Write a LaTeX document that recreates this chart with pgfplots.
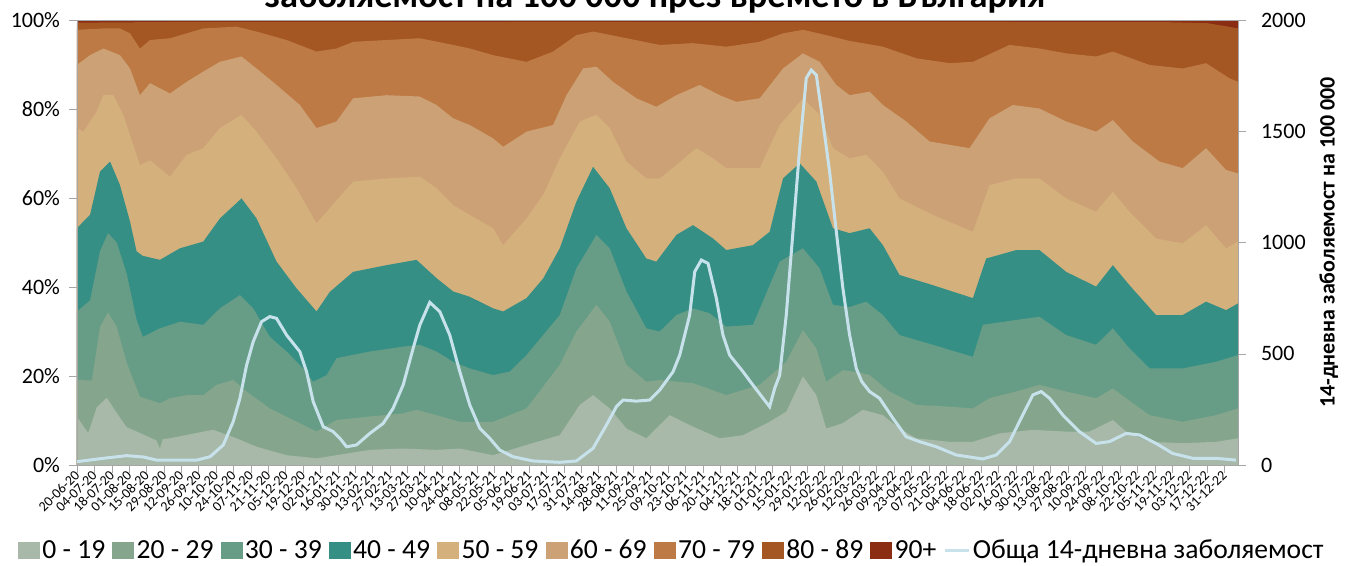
\documentclass[border=0pt]{standalone}
\usepackage{fontspec}
\setmainfont{Carlito}
\usepackage{pgfplots}
\pgfplotsset{compat=1.18}
\definecolor{cA}{HTML}{A8B9AA}
\definecolor{cB}{HTML}{85A68C}
\definecolor{cC}{HTML}{679D86}
\definecolor{cD}{HTML}{358F85}
\definecolor{cE}{HTML}{D4B07C}
\definecolor{cF}{HTML}{CCA176}
\definecolor{cG}{HTML}{BD7A44}
\definecolor{cH}{HTML}{A45623}
\definecolor{cI}{HTML}{8B2D12}
\definecolor{cL}{HTML}{C8E2EC}
\definecolor{axg}{HTML}{A6A6A6}
\pgfplotsset{
  sqleg/.style={legend image code/.code={\fill[##1] (0pt,-4.2pt) rectangle (11pt,4.2pt);}},
  lnleg/.style={legend image code/.code={\draw[##1] (0pt,0pt) -- (12pt,0pt);}},
}
\begin{document}
\begin{tikzpicture}
\begin{axis}[
  at={(38.5pt,50.5pt)}, anchor=south west,
  scale only axis, width=580.5pt, height=222.5pt,
  xmin=0, xmax=935, ymin=0, ymax=100,
  axis on top,
  axis line style={draw=axg},
  tick style={draw=axg},
  tick align=outside, major tick length=4pt,
  ytick pos=left, xtick pos=bottom,
  ytick={0,20,...,100},
  /pgf/number format/assume math mode=true,
  yticklabel={\pgfmathprintnumber{\tick}\%},
  yticklabel style={font=\fontsize{11}{13}\selectfont, xshift=-1pt},
  xtick={0,14,...,924},
  xticklabels={20-06-20,04-07-20,18-07-20,01-08-20,15-08-20,29-08-20,12-09-20,26-09-20,10-10-20,24-10-20,07-11-20,21-11-20,05-12-20,19-12-20,
  02-01-21,16-01-21,30-01-21,13-02-21,27-02-21,13-03-21,27-03-21,10-04-21,24-04-21,08-05-21,22-05-21,05-06-21,19-06-21,03-07-21,17-07-21,31-07-21,14-08-21,28-08-21,11-09-21,25-09-21,09-10-21,23-10-21,06-11-21,20-11-21,04-12-21,18-12-21,
  01-01-22,15-01-22,29-01-22,12-02-22,26-02-22,12-03-22,26-03-22,09-04-22,23-04-22,07-05-22,21-05-22,04-06-22,18-06-22,02-07-22,16-07-22,30-07-22,13-08-22,27-08-22,10-09-22,24-09-22,08-10-22,22-10-22,05-11-22,19-11-22,03-12-22,17-12-22,31-12-22},
  xticklabel style={rotate=45, anchor=east, font=\fontsize{7}{8}\selectfont, inner sep=0.8pt, xshift=1pt},
  legend columns=-1,
  legend style={at={(0.5125,-0.193)}, anchor=center, draw=none, fill=none,
    font=\fontsize{13.8}{16}\selectfont, nodes={inner sep=1.1pt},
    /tikz/every even column/.append style={column sep=2.5pt}},
]
% 90+ (to 100%)
\addplot[fill=cI, draw=none, forget plot] coordinates {(0,100) (935,100)} \closedcycle;
% top of 80-89
\addplot[fill=cH, draw=none, forget plot] coordinates {(0,99.4) (100,99.6) (200,99.6) (300,99.5) (400,99.6) (500,99.5) (600,99.6) (700,99.6) (800,99.5) (880,99.5) (910,99.3) (925,98.6) (935,98.1)} \closedcycle;
% top of 70-79
\addplot[fill=cG, draw=none, forget plot] coordinates {(0,97.8) (21.2,98.1) (34.6,98.1) (42.7,97.0) (50.7,93.6) (58.8,95.5) (74.9,95.9) (88.3,97.0) (101.7,98.1) (128.5,98.5) (144.6,97.4) (168.8,95.5) (192.9,92.9) (209.0,93.6) (222.4,95.1) (249.2,95.5) (276.1,95.9) (302.9,94.4) (316.3,93.6) (335.1,92.1) (362.0,90.6) (383.4,92.9) (402.2,96.6) (415.6,97.4) (442.5,95.9) (469.3,94.4) (496.1,94.8) (522.9,94.0) (549.8,95.1) (568.6,97.0) (584.6,97.8) (603.4,96.6) (622.2,95.3) (649.0,94.0) (675.9,91.4) (702.7,90.3) (721.5,90.6) (751.0,94.4) (775.1,93.6) (796.6,92.5) (820.7,91.8) (834.2,92.9) (863.7,89.9) (890.5,89.1) (909.3,90.3) (928.1,86.9) (935,86.1)} \closedcycle;
% top of 60-69
\addplot[fill=cF, draw=none, forget plot] coordinates {(0,89.9) (10.5,92.1) (21.2,93.6) (34.6,92.1) (42.7,89.1) (50.7,83.1) (58.8,85.8) (74.9,83.5) (88.3,86.1) (101.7,88.4) (115.1,90.6) (132.5,91.8) (144.6,89.1) (160.7,85.4) (179.5,80.9) (192.9,75.7) (209.0,77.2) (222.4,82.4) (249.2,83.1) (276.1,82.8) (289.5,80.9) (302.9,77.9) (316.3,76.4) (335.1,73.4) (343.2,71.5) (362.0,74.9) (383.4,76.4) (394.2,83.1) (407.6,89.1) (418.3,89.5) (431.7,86.1) (450.5,82.4) (466.6,80.5) (482.7,83.1) (501.5,85.4) (517.6,83.1) (531.0,81.6) (549.8,82.4) (568.6,89.1) (584.6,92.5) (598.1,90.6) (611.5,85.4) (622.2,83.1) (638.3,83.9) (649.0,80.9) (667.8,77.2) (686.6,72.7) (718.8,71.2) (734.9,77.9) (753.7,80.9) (775.1,80.1) (796.6,77.2) (820.7,74.9) (834.2,77.5) (850.3,72.7) (871.7,68.2) (890.5,66.7) (909.3,71.2) (925.4,66.3) (935,65.5)} \closedcycle;
% top of 50-59
\addplot[fill=cE, draw=none, forget plot] coordinates {(0,75.7) (5.1,74.9) (15.8,79.4) (21.2,83.1) (29.2,83.1) (37.3,78.7) (50.7,67.4) (58.8,68.5) (74.9,64.8) (88.3,69.7) (101.7,71.2) (115.1,75.7) (132.5,78.7) (144.6,74.9) (160.7,68.9) (176.8,62.2) (192.9,54.3) (203.6,57.7) (222.4,63.7) (249.2,64.4) (276.1,64.8) (289.5,62.2) (302.9,58.4) (316.3,56.2) (335.1,53.2) (343.2,49.4) (362.0,55.4) (375.4,60.7) (388.8,68.9) (404.9,77.2) (418.3,78.7) (429.0,75.7) (442.5,68.2) (458.5,64.4) (469.3,64.4) (482.7,67.4) (498.8,71.2) (512.2,68.9) (522.9,66.7) (549.8,66.7) (565.9,76.4) (584.6,82.4) (598.1,78.7) (608.8,71.2) (622.2,68.9) (635.6,69.7) (649.0,65.9) (662.4,59.9) (689.3,56.2) (721.5,52.4) (734.9,62.9) (756.4,64.4) (775.1,64.4) (796.6,59.9) (820.7,56.9) (834.2,61.4) (847.6,56.9) (869.0,50.9) (890.5,49.8) (909.3,53.9) (925.4,48.7) (935,50.2)} \closedcycle;
% top of 40-49
\addplot[fill=cD, draw=none, forget plot] coordinates {(0,53.2) (5.1,54.7) (10.5,56.2) (18.5,65.9) (26.6,68.2) (34.6,62.9) (42.7,54.7) (48,48.0) (53,47.0) (66.8,46.1) (82.9,48.7) (101.7,50.2) (115.1,55.4) (132.5,59.9) (144.6,55.4) (160.7,45.7) (176.8,39.7) (192.9,34.5) (203.6,38.9) (222.4,43.4) (249.2,44.9) (273.4,46.1) (289.5,42.0) (302.9,39.0) (316.3,37.8) (335.1,35.2) (343.2,34.5) (362.0,37.5) (375.4,41.9) (388.8,48.7) (402.2,59.2) (415.6,67.0) (429.0,62.2) (442.5,53.2) (458.5,46.4) (466.6,45.7) (482.7,51.7) (496.1,53.9) (512.2,50.9) (522.9,48.3) (544.4,49.4) (557.8,52.4) (568.6,64.4) (582.0,67.8) (595.4,63.7) (608.8,53.2) (622.2,52.1) (638.3,53.2) (649.0,49.4) (662.4,42.7) (689.3,40.4) (721.5,37.5) (732.2,46.4) (756.4,48.3) (775.1,48.3) (796.6,43.4) (820.7,40.1) (834.2,44.9) (847.6,40.4) (869.0,33.7) (890.5,33.7) (909.3,36.7) (925.4,34.8) (935,36.3)} \closedcycle;
% top of 30-39
\addplot[fill=cC, draw=none, forget plot] coordinates {(0,34.5) (10.5,37.0) (18.5,48.0) (25,52.1) (32,50.0) (40,43.0) (48,32.6) (53,28.8) (66.8,30.7) (82.9,32.2) (101.7,31.5) (115.1,35.2) (131.2,38.2) (141.9,35.2) (155.3,28.8) (168.8,25.5) (182.2,21.7) (190.2,18.7) (201.0,20.2) (209.0,24.0) (235.8,25.5) (262.7,26.6) (276.1,27.0) (289.5,25.5) (302.9,23.2) (316.3,21.7) (335.1,20.2) (348.5,21.0) (362.0,24.7) (388.8,33.7) (402.2,44.2) (418.3,51.7) (429.0,48.7) (442.5,39.0) (458.5,30.7) (469.3,30.0) (482.7,33.7) (496.1,35.2) (509.5,34.1) (522.9,31.1) (544.4,31.5) (565.9,45.7) (584.6,48.7) (598.1,44.2) (608.8,36.0) (622.2,35.5) (635.6,36.7) (649.0,33.7) (662.4,29.2) (689.3,27.0) (721.5,24.3) (729.5,31.5) (756.4,32.6) (775.1,33.3) (796.6,29.2) (820.7,27.0) (834.2,30.7) (847.6,26.2) (863.7,21.7) (890.5,21.7) (917.3,23.2) (935,24.7)} \closedcycle;
% top of 20-29
\addplot[fill=cB, draw=none, forget plot] coordinates {(0,19.1) (12,19.0) (18.5,31.0) (25,34.3) (32,31.0) (40,23.0) (50.7,15.3) (66.8,13.9) (74.9,15.0) (88.3,15.7) (101.7,15.7) (112.4,18.0) (125.8,19.1) (136.6,16.5) (155.3,12.7) (182.2,9.0) (192.9,7.5) (209.0,10.1) (235.8,10.9) (262.7,11.6) (273.4,12.4) (289.5,11.2) (308.3,9.7) (335.1,9.7) (362.0,12.7) (388.8,22.5) (402.2,30.0) (418.3,36.0) (429.0,32.2) (442.5,22.5) (458.5,18.7) (469.3,19.1) (496.1,18.4) (522.9,15.7) (549.8,18.0) (571.2,23.2) (584.6,30.3) (595.4,26.2) (603.4,18.7) (616.8,21.3) (630.2,20.8) (638.3,20.2) (654.4,16.5) (675.9,13.5) (702.7,13.1) (721.5,12.7) (734.9,15.0) (756.4,16.5) (775.1,18.0) (796.6,16.5) (820.7,15.0) (834.2,17.2) (844.9,15.0) (863.7,11.2) (890.5,9.7) (917.3,11.2) (935,12.7)} \closedcycle;
% top of 0-19
\addplot[fill=cA, draw=none, forget plot] coordinates {(0,10.8) (9,7.2) (16,13.0) (24,15.1) (32,11.7) (40,8.5) (50.7,7.2) (64,5.5) (66.8,3.7) (69,5.8) (74.9,6.0) (101.7,7.5) (109.7,7.9) (128.5,6.0) (144.6,4.1) (168.8,2.2) (192.9,1.5) (209.0,2.2) (235.8,3.4) (262.7,3.7) (289.5,3.4) (308.3,3.7) (335.1,2.2) (362.0,4.5) (388.8,6.7) (404.9,13.5) (415.6,15.7) (429.0,12.7) (442.5,8.2) (458.5,6.0) (477.3,11.2) (496.1,8.6) (517.6,6.0) (536.4,6.7) (557.8,9.7) (571.2,12.0) (584.6,19.9) (595.4,15.7) (603.4,8.2) (616.8,9.4) (632.9,12.4) (649.0,11.2) (662.4,8.2) (675.9,6.0) (702.7,5.2) (721.5,5.2) (742.9,7.1) (769.8,7.9) (796.6,7.5) (815.4,7.5) (834.2,10.1) (844.9,7.5) (863.7,5.2) (890.5,4.9) (917.3,5.2) (935,6.0)} \closedcycle;
\addlegendimage{sqleg, fill=cA, draw=none}\addlegendentry{0 - 19}
\addlegendimage{sqleg, fill=cB, draw=none}\addlegendentry{20 - 29}
\addlegendimage{sqleg, fill=cC, draw=none}\addlegendentry{30 - 39}
\addlegendimage{sqleg, fill=cD, draw=none}\addlegendentry{40 - 49}
\addlegendimage{sqleg, fill=cE, draw=none}\addlegendentry{50 - 59}
\addlegendimage{sqleg, fill=cF, draw=none}\addlegendentry{60 - 69}
\addlegendimage{sqleg, fill=cG, draw=none}\addlegendentry{70 - 79}
\addlegendimage{sqleg, fill=cH, draw=none}\addlegendentry{80 - 89}
\addlegendimage{sqleg, fill=cI, draw=none}\addlegendentry{90+}
\addlegendimage{lnleg, color=cL, line width=1.5pt}\addlegendentry{Обща 14-дневна заболяемост}
\end{axis}
\begin{axis}[
  at={(38.5pt,50.5pt)}, anchor=south west,
  scale only axis, width=580.5pt, height=222.5pt,
  xmin=0, xmax=935, ymin=0, ymax=2000,
  axis x line=none, axis y line*=right,
  axis line style={draw=axg},
  tick style={draw=axg},
  tick align=outside, major tick length=4pt,
  ytick={0,500,...,2000},
  scaled y ticks=false,
  /pgf/number format/1000 sep={},
  /pgf/number format/assume math mode=true,
  yticklabel style={font=\fontsize{11}{13}\selectfont, xshift=4pt},
  ylabel={\bfseries 14-дневна заболяемост на 100 000},
  ylabel style={font=\fontsize{11}{13}\selectfont},
]
\addplot[color=cL, line width=1.5pt] coordinates {(0,15) (21.2,30) (40.0,42) (53.4,36) (64.1,22) (96.3,22) (107.1,37) (117.8,90) (125.8,195) (131.2,300) (136.6,449) (141.9,554) (148.6,644) (155.3,667) (160.7,659) (168.8,584) (179.5,509) (184.9,419) (190.2,285) (198.3,172) (206.3,150) (211.7,120) (217.1,82) (225.1,90) (235.8,142) (246.6,187) (254.6,255) (262.7,360) (270.7,524) (276.1,629) (284.1,731) (292.2,689) (300.2,584) (308.3,419) (316.3,270) (324.4,165) (332.4,120) (340.5,67) (351.2,37) (367.3,18) (388.8,12) (402.2,18) (415.6,75) (426.4,180) (434.4,262) (439.8,292) (450.5,287) (461.2,292) (469.3,337) (480.0,419) (485.4,494) (493.4,674) (497.5,869) (502.8,921) (508.2,906) (514.9,749) (520.2,584) (525.6,494) (536.4,419) (544.4,359) (552.5,300) (557.8,262) (561.9,345) (565.9,404) (571.2,674) (576.6,1049) (582.0,1423) (587.3,1738) (591.3,1775) (595.4,1753) (600.7,1543) (606.1,1318) (611.5,1049) (616.8,794) (622.2,584) (627.6,434) (632,375) (638.3,330) (646.3,300) (657.1,210) (667.8,127) (678.5,105) (692.0,82) (708.1,45) (729.5,27) (740.3,45) (751.0,105) (761.7,225) (769.8,315) (776.5,330) (783.2,300) (793.9,225) (807.3,150) (820.7,97) (831.5,105) (844.9,142) (855.6,135) (869.0,97) (882.4,52) (898.6,30) (917.3,30) (933.4,22)};
\end{axis}
\node[font=\fontsize{18.2}{22}\selectfont\bfseries, anchor=base] at (327.5pt,279pt) {заболяемост на 100 000 през времето в България};
\pgfresetboundingbox
\useasboundingbox (0,0) rectangle (675pt,283pt);
\end{tikzpicture}
\end{document}
